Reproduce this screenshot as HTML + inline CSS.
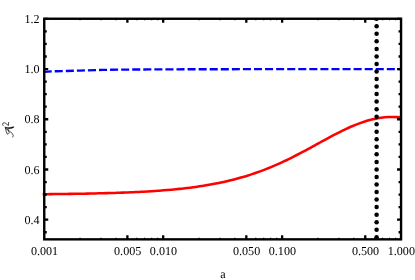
<!DOCTYPE html>
<html><head><meta charset="utf-8"><style>
html,body{margin:0;padding:0;background:#fff;}
body{position:relative;width:415px;height:280px;overflow:hidden;}
svg{display:block;position:absolute;left:0;top:0;}
svg.tx{will-change:transform;}
text{font-family:"Liberation Serif",serif;font-size:12.1px;fill:#000;text-rendering:geometricPrecision;}
</style></head><body>
<svg width="415" height="280" viewBox="0 0 415 280">
<rect width="415" height="280" fill="#fff"/>
<path d="M42.60 194.19 C43.27 194.18 45.29 194.16 46.63 194.15 C47.97 194.14 49.31 194.13 50.66 194.11 C52.00 194.10 53.34 194.09 54.68 194.07 C56.03 194.06 57.37 194.05 58.71 194.03 C60.05 194.02 61.40 194.00 62.74 193.98 C64.08 193.97 65.42 193.95 66.77 193.93 C68.11 193.92 69.45 193.90 70.79 193.88 C72.14 193.86 73.48 193.84 74.82 193.82 C76.16 193.80 77.51 193.78 78.85 193.76 C80.19 193.73 81.53 193.71 82.88 193.69 C84.22 193.66 85.56 193.64 86.90 193.61 C88.25 193.59 89.59 193.56 90.93 193.53 C92.27 193.50 93.62 193.47 94.96 193.44 C96.30 193.41 97.64 193.38 98.99 193.35 C100.33 193.32 101.67 193.29 103.01 193.25 C104.36 193.22 105.70 193.18 107.04 193.14 C108.38 193.10 109.73 193.07 111.07 193.02 C112.41 192.98 113.75 192.94 115.10 192.90 C116.44 192.85 117.78 192.81 119.12 192.76 C120.47 192.71 121.81 192.67 123.15 192.61 C124.49 192.56 125.84 192.51 127.18 192.46 C128.52 192.40 129.86 192.34 131.21 192.28 C132.55 192.23 133.89 192.16 135.23 192.10 C136.58 192.04 137.92 191.97 139.26 191.90 C140.60 191.83 141.95 191.76 143.29 191.69 C144.63 191.61 145.97 191.54 147.32 191.46 C148.66 191.38 150.00 191.30 151.34 191.21 C152.69 191.13 154.03 191.04 155.37 190.94 C156.71 190.85 158.06 190.76 159.40 190.66 C160.74 190.56 162.08 190.46 163.43 190.35 C164.77 190.24 166.11 190.13 167.45 190.02 C168.80 189.90 170.14 189.78 171.48 189.66 C172.82 189.54 174.17 189.41 175.51 189.28 C176.85 189.15 178.19 189.01 179.54 188.87 C180.88 188.72 182.22 188.58 183.56 188.43 C184.91 188.27 186.25 188.12 187.59 187.95 C188.93 187.79 190.28 187.62 191.62 187.44 C192.96 187.27 194.30 187.09 195.65 186.90 C196.99 186.71 198.33 186.52 199.67 186.32 C201.02 186.12 202.36 185.91 203.70 185.70 C205.04 185.48 206.39 185.26 207.73 185.03 C209.07 184.80 210.41 184.56 211.76 184.32 C213.10 184.07 214.44 183.82 215.78 183.56 C217.13 183.30 218.47 183.03 219.81 182.75 C221.15 182.47 222.50 182.18 223.84 181.88 C225.18 181.59 226.52 181.28 227.87 180.96 C229.21 180.65 230.55 180.32 231.89 179.99 C233.24 179.65 234.58 179.31 235.92 178.95 C237.26 178.59 238.61 178.23 239.95 177.85 C241.29 177.47 242.63 177.08 243.98 176.68 C245.32 176.29 246.66 175.88 248.00 175.45 C249.35 175.03 250.69 174.60 252.03 174.15 C253.37 173.71 254.72 173.25 256.06 172.78 C257.40 172.31 258.74 171.83 260.09 171.34 C261.43 170.85 262.77 170.35 264.11 169.83 C265.46 169.31 266.80 168.78 268.14 168.24 C269.48 167.70 270.83 167.15 272.17 166.59 C273.51 166.02 274.85 165.45 276.20 164.86 C277.54 164.27 278.88 163.67 280.22 163.06 C281.57 162.45 282.91 161.83 284.25 161.20 C285.59 160.57 286.94 159.93 288.28 159.27 C289.62 158.62 290.96 157.96 292.31 157.29 C293.65 156.62 294.99 155.93 296.33 155.25 C297.68 154.56 299.02 153.86 300.36 153.16 C301.70 152.45 303.05 151.74 304.39 151.02 C305.73 150.31 307.07 149.58 308.42 148.86 C309.76 148.13 311.10 147.40 312.44 146.67 C313.79 145.93 315.13 145.20 316.47 144.46 C317.81 143.72 319.16 142.98 320.50 142.25 C321.84 141.51 323.18 140.78 324.53 140.05 C325.87 139.32 327.21 138.59 328.55 137.87 C329.90 137.14 331.24 136.43 332.58 135.72 C333.92 135.01 335.27 134.31 336.61 133.62 C337.95 132.93 339.29 132.25 340.64 131.58 C341.98 130.91 343.32 130.26 344.66 129.62 C346.01 128.98 347.35 128.36 348.69 127.75 C350.03 127.15 351.38 126.56 352.72 125.99 C354.06 125.43 355.40 124.88 356.75 124.35 C358.09 123.83 359.43 123.33 360.77 122.85 C362.12 122.37 363.46 121.92 364.80 121.49 C366.14 121.07 367.49 120.67 368.83 120.30 C370.17 119.93 371.51 119.59 372.86 119.27 C374.20 118.96 375.54 118.68 376.88 118.43 C378.23 118.18 379.57 117.96 380.91 117.78 C382.25 117.59 383.60 117.44 384.94 117.32 C386.28 117.20 387.62 117.11 388.97 117.06 C390.31 117.00 391.65 116.98 392.99 117.00 C394.34 117.01 395.68 117.06 397.02 117.14 C398.36 117.22 400.38 117.43 401.05 117.48" fill="none" stroke="#ff0000" stroke-width="2.55"/>
<path d="M43.70 72.00 L44.30 71.95 L48.00 71.65 L51.00 71.40 L55.00 71.25 L62.00 71.10 L80.00 70.60 L95.00 70.10 L103.00 69.90 L120.00 69.65 L150.00 69.40 L200.00 69.25 L300.00 69.10 L401.00 69.05" fill="none" stroke="#0000ff" stroke-width="2.35" stroke-dasharray="8.05 3.02"/>
<clipPath id="cp"><rect x="44.25" y="18.15" width="356.80" height="221.80"/></clipPath>
<g fill="#000" clip-path="url(#cp)"><circle cx="376.6" cy="18.74" r="2.25"/><circle cx="376.6" cy="26.27" r="2.25"/><circle cx="376.6" cy="33.81" r="2.25"/><circle cx="376.6" cy="41.34" r="2.25"/><circle cx="376.6" cy="48.88" r="2.25"/><circle cx="376.6" cy="56.41" r="2.25"/><circle cx="376.6" cy="63.95" r="2.25"/><circle cx="376.6" cy="71.48" r="2.25"/><circle cx="376.6" cy="79.02" r="2.25"/><circle cx="376.6" cy="86.55" r="2.25"/><circle cx="376.6" cy="94.09" r="2.25"/><circle cx="376.6" cy="101.62" r="2.25"/><circle cx="376.6" cy="109.16" r="2.25"/><circle cx="376.6" cy="116.69" r="2.25"/><circle cx="376.6" cy="124.23" r="2.25"/><circle cx="376.6" cy="131.77" r="2.25"/><circle cx="376.6" cy="139.30" r="2.25"/><circle cx="376.6" cy="146.84" r="2.25"/><circle cx="376.6" cy="154.37" r="2.25"/><circle cx="376.6" cy="161.91" r="2.25"/><circle cx="376.6" cy="169.44" r="2.25"/><circle cx="376.6" cy="176.98" r="2.25"/><circle cx="376.6" cy="184.51" r="2.25"/><circle cx="376.6" cy="192.05" r="2.25"/><circle cx="376.6" cy="199.58" r="2.25"/><circle cx="376.6" cy="207.12" r="2.25"/><circle cx="376.6" cy="214.65" r="2.25"/><circle cx="376.6" cy="222.19" r="2.25"/><circle cx="376.6" cy="229.72" r="2.25"/><circle cx="376.6" cy="237.26" r="2.25"/></g>
<path d="M44.25 232.25 h2.50 M401.05 232.25 h-2.50 M44.25 219.70 h4.00 M401.05 219.70 h-4.00 M44.25 207.15 h2.50 M401.05 207.15 h-2.50 M44.25 194.59 h2.50 M401.05 194.59 h-2.50 M44.25 182.04 h2.50 M401.05 182.04 h-2.50 M44.25 169.49 h4.00 M401.05 169.49 h-4.00 M44.25 156.93 h2.50 M401.05 156.93 h-2.50 M44.25 144.38 h2.50 M401.05 144.38 h-2.50 M44.25 131.83 h2.50 M401.05 131.83 h-2.50 M44.25 119.27 h4.00 M401.05 119.27 h-4.00 M44.25 106.72 h2.50 M401.05 106.72 h-2.50 M44.25 94.17 h2.50 M401.05 94.17 h-2.50 M44.25 81.62 h2.50 M401.05 81.62 h-2.50 M44.25 69.06 h4.00 M401.05 69.06 h-4.00 M44.25 56.51 h2.50 M401.05 56.51 h-2.50 M44.25 43.96 h2.50 M401.05 43.96 h-2.50 M44.25 31.40 h2.50 M401.05 31.40 h-2.50 M44.25 18.85 h4.00 M401.05 18.85 h-4.00 M127.38 239.35 v-4.00 M127.38 18.75 v4.00 M163.18 239.35 v-4.00 M163.18 18.75 v4.00 M246.31 239.35 v-4.00 M246.31 18.75 v4.00 M282.12 239.35 v-4.00 M282.12 18.75 v4.00 M365.25 239.35 v-4.00 M365.25 18.75 v4.00" fill="none" stroke="#000" stroke-width="2.3"/>
<path d="M80.05 239.35 v-1.50 M80.05 18.75 v1.50 M101.00 239.35 v-1.50 M101.00 18.75 v1.50 M115.86 239.35 v-1.50 M115.86 18.75 v1.50 M136.80 239.35 v-1.50 M136.80 18.75 v1.50 M144.76 239.35 v-1.50 M144.76 18.75 v1.50 M151.66 239.35 v-1.50 M151.66 18.75 v1.50 M157.74 239.35 v-1.50 M157.74 18.75 v1.50 M198.99 239.35 v-1.50 M198.99 18.75 v1.50 M219.93 239.35 v-1.50 M219.93 18.75 v1.50 M234.79 239.35 v-1.50 M234.79 18.75 v1.50 M255.73 239.35 v-1.50 M255.73 18.75 v1.50 M263.69 239.35 v-1.50 M263.69 18.75 v1.50 M270.59 239.35 v-1.50 M270.59 18.75 v1.50 M276.67 239.35 v-1.50 M276.67 18.75 v1.50 M317.92 239.35 v-1.50 M317.92 18.75 v1.50 M338.86 239.35 v-1.50 M338.86 18.75 v1.50 M353.72 239.35 v-1.50 M353.72 18.75 v1.50 M374.66 239.35 v-1.50 M374.66 18.75 v1.50 M382.63 239.35 v-1.50 M382.63 18.75 v1.50 M389.52 239.35 v-1.50 M389.52 18.75 v1.50 M395.61 239.35 v-1.50 M395.61 18.75 v1.50" fill="none" stroke="#000" stroke-width="1.2"/>
<rect x="44.25" y="18.75" width="356.80" height="220.60" fill="none" stroke="#000" stroke-width="2.4"/>
</svg><svg class="tx" width="415" height="280" viewBox="0 0 415 280">
<text x="39.6" y="223.85" text-anchor="end">0.4</text>
<text x="39.6" y="173.64" text-anchor="end">0.6</text>
<text x="39.6" y="123.42" text-anchor="end">0.8</text>
<text x="39.6" y="73.21" text-anchor="end">1.0</text>
<text x="39.6" y="23.00" text-anchor="end">1.2</text>
<text x="44.55" y="254.7" text-anchor="middle">0.001</text>
<text x="127.68" y="254.7" text-anchor="middle">0.005</text>
<text x="163.48" y="254.7" text-anchor="middle">0.010</text>
<text x="246.61" y="254.7" text-anchor="middle">0.050</text>
<text x="282.42" y="254.7" text-anchor="middle">0.100</text>
<text x="365.55" y="254.7" text-anchor="middle">0.500</text>
<text x="401.35" y="254.7" text-anchor="middle">1.000</text>
<text x="222.9" y="277.8" text-anchor="middle">a</text>
<g fill="none" stroke="#000" stroke-linecap="round" stroke-linejoin="round">
<path d="M5.0 127.0 Q9.4 128.4 13.7 126.6 L13.9 127.5 Q9.6 129.9 5.1 127.7 Z" fill="#000" stroke-width="0.25"/>
<path d="M5.4 128.2 Q9.2 130.6 12.2 133.4 Q14 135.4 12.9 137.1" stroke-width="0.7"/>
<path d="M5.6 128.4 Q5.9 131.6 7.1 133.9 Q8.2 134.8 8.8 133.6" stroke-width="0.7"/>
<path d="M8.0 129.3 Q8.2 131.4 9.2 132.6" stroke-width="0.7"/>
<path d="M3.1 125.6 Q1.9 124.3 3.0 123.1 Q4.2 122.2 5.6 123.4 L8.5 125.5 L8.6 122.4" stroke-width="0.7"/>
</g>
</svg>
</body></html>
